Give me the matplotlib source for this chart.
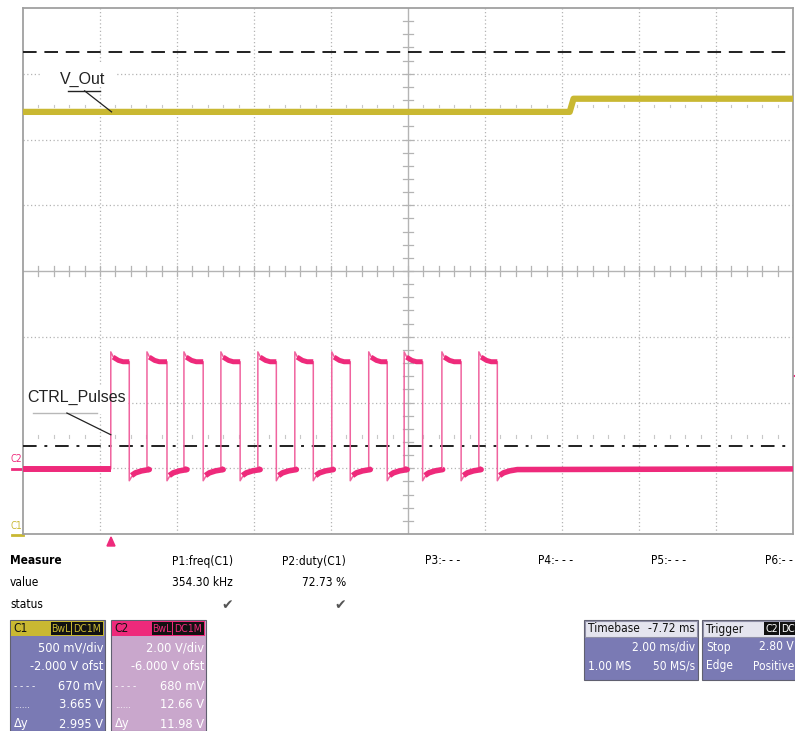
import matplotlib
matplotlib.use("Agg")
from matplotlib import pyplot as plt
from matplotlib import font_manager as fm
from matplotlib.patches import Rectangle, Polygon

# screen is 10 x 8 divisions, values in divisions (center = 0)
vout_level_before = 2.42
vout_level_after = 2.62
vout_step_at = 7.10

ctrl_rise = [1.14, 1.61, 2.09, 2.57, 3.05, 3.53, 4.01, 4.49, 4.95, 5.44, 5.92]
ctrl_fall = [1.38, 1.87, 2.34, 2.82, 3.29, 3.77, 4.25, 4.73, 5.19, 5.69, 6.16]
ctrl_base = -3.01
ctrl_high = -1.38
ctrl_peak = -1.23
ctrl_under = -3.19

cursor_dotted = 3.33   # 3.665 V on C1
cursor_dashdot = -2.66  # 670 mV on C1

measure_names = ["P1:freq(C1)", "P2:duty(C1)", "P3:- - -", "P4:- - -", "P5:- - -", "P6:- - -"]
measure_values = ["354.30 kHz", "72.73 %"]

c1_rows = ["500 mV/div", "-2.000 V ofst", "670 mV", "3.665 V", "2.995 V"]
c2_rows = ["2.00 V/div", "-6.000 V ofst", "680 mV", "12.66 V", "11.98 V"]

YEL = "#c9b832"
PINK = "#ee2a7b"
PURPLE = "#7a7ab4"
LILAC = "#c9a7cc"
GRID = "#b4b4b4"

plt.rcParams["font.family"] = ["Liberation Sans", "DejaVu Sans"]

# the scope uses a narrow font; take a condensed one if there is one
names = {f.name for f in fm.fontManager.ttflist}
cond = [f for f in fm.fontManager.ttflist if f.name == "DejaVu Sans" and "ondensed" in str(f.stretch) + f.fname]
if "Liberation Sans Narrow" in names:
    NK = dict(family=["Liberation Sans Narrow", "DejaVu Sans"])
    SZ = 10
elif cond:
    NK = dict(family=["DejaVu Sans"], stretch="condensed")
    SZ = 8.6
else:
    NK = dict(family=["Liberation Sans", "DejaVu Sans"])
    SZ = 8.2

fig = plt.figure(figsize=(7.95, 7.31), dpi=100)

# overlay in pixel coordinates for the panels below the screen
ov = fig.add_axes([0, 0, 1, 1])
ov.set_xlim(0, 795)
ov.set_ylim(731, 0)
ov.axis("off")

ax = fig.add_axes([23 / 795, 1 - 534 / 731, 770 / 795, 526 / 731])
ax.set_xlim(0, 10)
ax.set_ylim(-4, 4)
ax.set_xticks([])
ax.set_yticks([])
for s in ax.spines.values():
    s.set_color("#a0a0a0")
    s.set_linewidth(1.3)

# grid
for i in range(1, 10):
    if i == 5:
        ax.axvline(i, color=GRID, lw=1.0, zorder=1)
    else:
        ax.axvline(i, color=GRID, lw=0.9, ls=(0, (1, 2)), zorder=1)
for j in range(-3, 4):
    if j == 0:
        ax.axhline(j, color=GRID, lw=1.0, zorder=1)
    else:
        ax.axhline(j, color=GRID, lw=0.9, ls=(0, (1, 2)), zorder=1)

# minor ticks on the center lines
for k in range(1, 50):
    x = k * 0.2
    ax.plot([x, x], [-0.07, 0.07], color=GRID, lw=0.9, zorder=1)
for k in range(1, 40):
    y = -4 + k * 0.2
    ax.plot([4.93, 5.07], [y, y], color=GRID, lw=0.9, zorder=1)
for y in [2.51, -2.52]:
    for k in range(1, 50):
        if k % 5:
            ax.plot([k * 0.2, k * 0.2], [y - 0.02, y + 0.02], color="#c8c8c8", lw=0.8, zorder=1)

# cursors
ax.axhline(cursor_dotted, color="#202020", lw=1.4, ls=(0, (7, 4)), zorder=3)
ax.axhline(cursor_dashdot, color="#202020", lw=1.4, ls=(0, (7, 4, 1.5, 4)), zorder=3)

# V_Out trace
ax.plot([0, vout_step_at, vout_step_at + 0.05, 10],
        [vout_level_before, vout_level_before, vout_level_after, vout_level_after],
        color=YEL, lw=4.5, solid_capstyle="butt", zorder=4)

# CTRL_Pulses trace, thin edges
xs, ys = [0], [ctrl_base]
for r, f in zip(ctrl_rise, ctrl_fall):
    xs += [r, r, r + 0.03, r + 0.1, f, f, f + 0.03, f + 0.2]
    ys += [ctrl_base, ctrl_peak, ctrl_high + 0.08, ctrl_high, ctrl_high, ctrl_under, ctrl_base - 0.12, ctrl_base]
xs.append(10)
ys.append(ctrl_base)
ax.plot(xs, ys, color="#f0649f", lw=1.1, zorder=5)

# CTRL_Pulses, noisy flat parts
ax.hlines(ctrl_base, 0, ctrl_rise[0], color=PINK, lw=4.3, zorder=5)
for i, (r, f) in enumerate(zip(ctrl_rise, ctrl_fall)):
    ax.plot([r + 0.03, r + 0.1, r + 0.16, f], [ctrl_high + 0.07, ctrl_high + 0.02, ctrl_high, ctrl_high],
            color=PINK, lw=3.6, solid_capstyle="butt", zorder=5)
    nxt = ctrl_rise[i + 1] if i + 1 < len(ctrl_rise) else 10
    ax.plot([f + 0.03, f + 0.08, f + 0.16, f + 0.26, nxt],
            [ctrl_base - 0.1, ctrl_base - 0.06, ctrl_base - 0.03, ctrl_base - 0.01, ctrl_base],
            color=PINK, lw=4.0, solid_capstyle="butt", zorder=5)

# labels
ax.add_patch(Rectangle((0.25, 2.8), 0.95, 0.35, facecolor="white", edgecolor="none", zorder=2))
ax.text(0.78, 2.92, "V_Out", fontsize=11.5, ha="center", va="center", color="#222222", zorder=6)
ax.plot([0.58, 1.0], [2.74, 2.74], color="#222222", lw=1.0, zorder=6)
ax.plot([0.80, 1.15], [2.74, vout_level_before], color="#222222", lw=0.9, zorder=6)

ax.add_patch(Rectangle((0.0, -2.17), 1.36, 0.42, facecolor="white", edgecolor="none", zorder=2))
ax.text(0.06, -1.93, "CTRL_Pulses", fontsize=11.5, ha="left", va="center", color="#222222", zorder=6)
ax.plot([0.13, 0.96], [-2.16, -2.16], color="#b8b8b8", lw=1.0, zorder=6)
ax.plot([0.57, 1.14], [-2.16, -2.49], color="#222222", lw=0.9, zorder=6)

# channel markers at left of screen
ov.text(16, 459, "C2", color=PINK, fontsize=7, ha="center", va="center", **NK)
ov.plot([12, 23], [469, 469], color=PINK, lw=2)
ov.text(16, 526, "C1", color=YEL, fontsize=7, ha="center", va="center", **NK)
ov.plot([12, 23], [535, 535], color=YEL, lw=2)
ov.add_patch(Polygon([[107, 546], [115, 546], [111, 537]], closed=True, color=PINK))
ov.plot([793, 795], [376, 376], color=PINK, lw=1.5)

# measure table
ov.text(10, 561, "Measure", fontsize=SZ, fontweight="bold", va="center", **NK)
ov.text(10, 583, "value", fontsize=SZ, va="center", **NK)
ov.text(10, 605, "status", fontsize=SZ, va="center", **NK)
name_x = [233, 346, 425, 538, 651, 765]
for i, name in enumerate(measure_names):
    ha = "right" if i < 2 else "left"
    ov.text(name_x[i], 561, name, fontsize=SZ, ha=ha, va="center", **NK)
for i, v in enumerate(measure_values):
    ov.text(name_x[i], 583, v, fontsize=SZ, ha="right", va="center", **NK)
    ov.text(name_x[i] - 6, 605, "\u2714", fontsize=10, ha="center", va="center", color="#555555",
            family=["DejaVu Sans"])


def chan_panel(x0, name, hdr, body, rows):
    ov.add_patch(Rectangle((x0, 620), 95, 111, facecolor=body, edgecolor="#606070", lw=0.8))
    ov.add_patch(Rectangle((x0 + 1, 621), 93, 15, facecolor=hdr, edgecolor="none"))
    ov.text(x0 + 3, 628, name, fontsize=SZ, va="center", color="#111111", **NK)
    ov.add_patch(Rectangle((x0 + 41, 622), 20, 13, facecolor="#111111", edgecolor="none"))
    ov.add_patch(Rectangle((x0 + 62, 622), 31, 13, facecolor="#111111", edgecolor="none"))
    ov.text(x0 + 51, 628.5, "BwL", fontsize=SZ - 1, ha="center", va="center", color=hdr, **NK)
    ov.text(x0 + 77.5, 628.5, "DC1M", fontsize=SZ - 1, ha="center", va="center", color=hdr, **NK)
    for k, t in enumerate(rows):
        ov.text(x0 + 93, 648 + k * 19, t, fontsize=SZ + 0.6, ha="right", va="center", color="white", **NK)
    ov.text(x0 + 4, 686, "- - - -", fontsize=7, va="center", color="white")
    ov.text(x0 + 4, 705, "......", fontsize=7, va="center", color="white")
    ov.text(x0 + 4, 724, "\u0394y", fontsize=SZ + 0.6, va="center", color="white", **NK)


chan_panel(10, "C1", YEL, PURPLE, c1_rows)
chan_panel(111, "C2", PINK, LILAC, c2_rows)

# timebase panel
ov.add_patch(Rectangle((584, 620), 114, 60, facecolor=PURPLE, edgecolor="#606070", lw=0.8))
ov.add_patch(Rectangle((585, 621), 112, 16, facecolor="#e4e4ee", edgecolor="#9090a8", lw=0.8))
ov.text(588, 629, "Timebase", fontsize=SZ, va="center", color="#111111", **NK)
ov.text(695, 629, "-7.72 ms", fontsize=SZ, ha="right", va="center", color="#111111", **NK)
ov.text(695, 647, "2.00 ms/div", fontsize=SZ, ha="right", va="center", color="white", **NK)
ov.text(588, 666, "1.00 MS", fontsize=SZ, va="center", color="white", **NK)
ov.text(695, 666, "50 MS/s", fontsize=SZ, ha="right", va="center", color="white", **NK)

# trigger panel
ov.add_patch(Rectangle((702, 620), 95, 60, facecolor=PURPLE, edgecolor="#606070", lw=0.8))
ov.add_patch(Rectangle((703, 621), 95, 16, facecolor="#e4e4ee", edgecolor="#9090a8", lw=0.8))
ov.text(706, 629, "Trigger", fontsize=SZ, va="center", color="#111111", **NK)
ov.add_patch(Rectangle((764, 622), 15, 13, facecolor="#111111", edgecolor="none"))
ov.add_patch(Rectangle((780, 622), 16, 13, facecolor="#111111", edgecolor="none"))
ov.text(771.5, 628.5, "C2", fontsize=SZ - 1, ha="center", va="center", color="white", **NK)
ov.text(781, 628.5, "DC", fontsize=SZ - 1, ha="left", va="center", color="white", **NK)
ov.text(706, 647, "Stop", fontsize=SZ, va="center", color="white", **NK)
ov.text(794, 647, "2.80 V", fontsize=SZ, ha="right", va="center", color="white", **NK)
ov.text(706, 666, "Edge", fontsize=SZ, va="center", color="white", **NK)
ov.text(794, 666, "Positive", fontsize=SZ, ha="right", va="center", color="white", **NK)

fig.savefig("out.png", dpi=100)
